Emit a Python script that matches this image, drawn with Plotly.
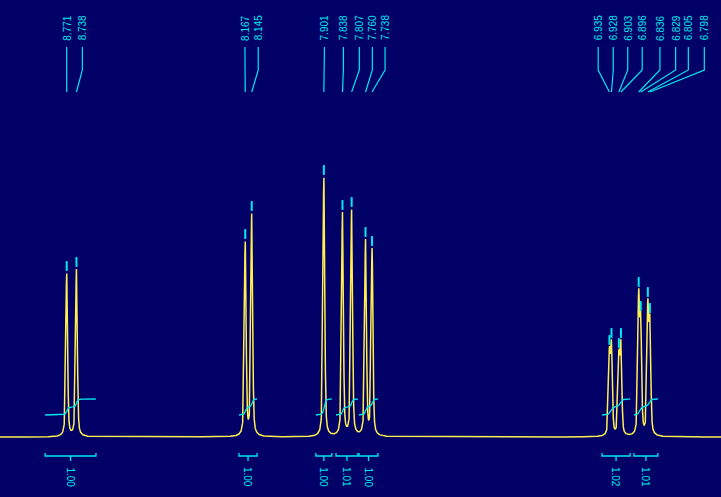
import numpy as np
import plotly.graph_objects as go

# 1H NMR peaks (ppm) and apparent heights
peak_ppm = [8.771, 8.738, 8.167, 8.145, 7.901, 7.838, 7.807, 7.760, 7.738,
            6.935, 6.928, 6.903, 6.896, 6.836, 6.829, 6.805, 6.798]
peak_height = [164, 168, 196, 224, 260, 225, 228, 198, 189,
               90, 97, 87, 97, 148, 124, 138, 122]

# integration regions (ppm) and their values
int_start = [8.844, 8.188, 7.928, 7.860, 7.782, 6.960, 6.852]
int_end = [8.672, 8.127, 7.874, 7.786, 7.718, 6.865, 6.771]
int_value = ["1.00", "1.00", "1.00", "1.01", "1.00", "1.02", "1.01"]

# where the peak labels sit along the top (spread out so they don't collide)
label_x = [8.771, 8.718, 8.168, 8.123, 7.899, 7.835, 7.781, 7.737, 7.694,
           6.973, 6.922, 6.873, 6.824, 6.764, 6.711, 6.668, 6.614]

BG = "#000066"
YELLOW = "#FFF050"
CYAN = "#00E8F0"
W = 0.007   # line width (ppm)
ETA = 0.45  # lorentzian fraction of the line shape


def line_shape(x, x0):
    d = (x - x0) / W
    lor = 1.0 / (1.0 + 4 * d ** 2)
    gau = np.exp(-4 * np.log(2) * d ** 2)
    return ETA * lor + (1 - ETA) * gau


# amplitudes so the summed spectrum hits the read heights at each peak
p = np.array(peak_ppm)
M = line_shape(p[:, None], p[None, :])
amp = np.linalg.solve(M, np.array(peak_height, dtype=float))

ppm = np.arange(6.55, 9.0, 0.0004)
spec = np.zeros_like(ppm)
for a, x0 in zip(amp, p):
    spec += a * line_shape(ppm, x0)

fig = go.Figure()
fig.add_trace(go.Scatter(x=ppm, y=spec, mode="lines",
                         line=dict(color=YELLOW, width=1.5), hoverinfo="skip"))

# little ticks above each picked peak
tops = np.array([np.sum(amp * line_shape(x0, p)) for x0 in p])
fig.add_trace(go.Scatter(x=p, y=tops + 7, mode="markers",
                         marker=dict(symbol="line-ns", size=7,
                                     line=dict(color=CYAN, width=2)),
                         hoverinfo="skip"))

# integral curves
for s, e in zip(int_start, int_end):
    m = (ppm <= s) & (ppm >= e)
    xs = ppm[m][::-1]
    ys = spec[m][::-1]
    cum = np.concatenate([[0], np.cumsum((ys[1:] + ys[:-1]) / 2)])
    cum = cum / cum[-1]
    fig.add_trace(go.Scatter(x=xs, y=22 + 16 * cum, mode="lines",
                             line=dict(color=CYAN, width=1.3), hoverinfo="skip"))

# leader lines from labels down to peaks
lx, ly = [], []
for pk, lb in zip(peak_ppm, label_x):
    lx += [lb, lb, pk, None]
    ly += [390, 367, 345, None]
fig.add_trace(go.Scatter(x=lx, y=ly, mode="lines",
                         line=dict(color=CYAN, width=1.2), hoverinfo="skip"))

for pk, lb in zip(peak_ppm, label_x):
    fig.add_annotation(x=lb, y=409, text=f"{pk:.3f}", textangle=-90,
                       showarrow=False, xanchor="center", yanchor="middle",
                       font=dict(color=CYAN, size=10, family="Liberation Sans"))

# integration brackets
for s, e, v in zip(int_start, int_end, int_value):
    c = (s + e) / 2
    fig.add_shape(type="path", path=f"M {s},-16 L {s},-19 L {e},-19 L {e},-16",
                  line=dict(color=CYAN, width=1.3))
    fig.add_shape(type="line", x0=c, x1=c, y0=-19, y1=-24,
                  line=dict(color=CYAN, width=1.3))
    fig.add_annotation(x=c, y=-40, text=v, textangle=90, showarrow=False,
                       xanchor="center", yanchor="middle",
                       font=dict(color=CYAN, size=10, family="Liberation Sans"))

fig.update_layout(
    width=721, height=497,
    margin=dict(l=0, r=0, t=0, b=0),
    paper_bgcolor=BG, plot_bgcolor=BG,
    showlegend=False,
    hovermode=False,
    xaxis=dict(range=[8.9966, 6.5575], visible=False),
    yaxis=dict(range=[-60, 437], visible=False),
)

fig.write_html("out.html", config={"displayModeBar": False},
               post_script="document.body.style.margin='0';"
                           "document.body.style.overflow='hidden';")
